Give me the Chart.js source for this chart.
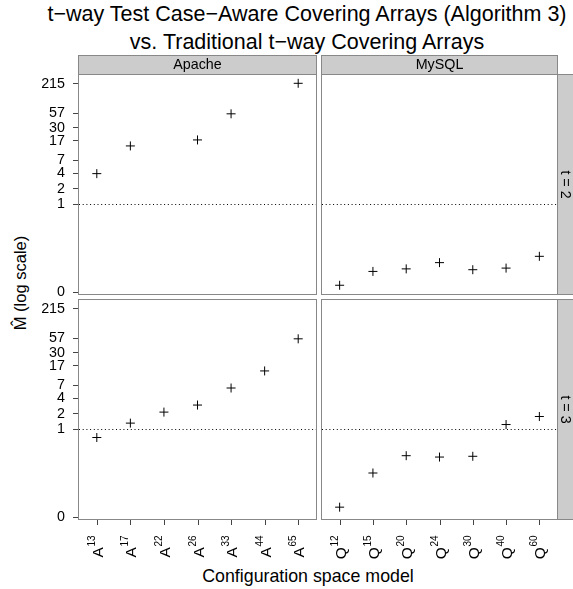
<!DOCTYPE html>
<html>
<head>
<meta charset="utf-8">
<script src="https://cdn.jsdelivr.net/npm/chart.js@4.4.0/dist/chart.umd.min.js"></script>
<style>
  body { margin: 0; width: 573px; height: 589px; overflow: hidden; background: #fff; position: relative;
         font-family: "Liberation Sans", Arial, sans-serif; }
  canvas { position: absolute; left: 0; top: 0; }
  .lbl { position: absolute; white-space: nowrap; color: #000; }
</style>
</head>
<body>
<div class="lbl" style="left:307px;top:0;font-size:21.5px;line-height:28px;text-align:center;transform:translateX(-50%)">t−way Test Case−Aware Covering Arrays (Algorithm 3)<br>vs. Traditional t−way Covering Arrays</div>
<div class="lbl" style="left:308px;top:566px;font-size:17.8px;line-height:20px;transform:translateX(-50%)">Configuration space model</div>
<div class="lbl" style="left:20px;top:283px;font-size:16.5px;line-height:20px;transform:translate(-50%,-50%) rotate(-90deg)">M&#770; (log scale)</div>

<canvas id="pa2" width="573" height="589"></canvas>
<canvas id="pm2" width="573" height="589"></canvas>
<canvas id="pa3" width="573" height="589"></canvas>
<canvas id="pm3" width="573" height="589"></canvas>

<script>
// configuration space models (superscript = size)
let apacheSizes = ['13', '17', '22', '26', '33', '44', '65']
let mysqlSizes = ['12', '15', '20', '24', '30', '40', '60']

// M-hat values (null = no point)
let apacheT2 = [3.9, 13.4, null, 17.5, 56, null, 218]
let mysqlT2 = [0.027, 0.050, 0.056, 0.074, 0.054, 0.058, 0.098]
let apacheT3 = [0.69, 1.31, 2.14, 2.93, 6.26, 13.4, 56]
let mysqlT3 = [0.031, 0.142, 0.307, 0.289, 0.299, 1.23, 1.76]

// y axis ticks
let yTickValues = [0.02, 1, 2, 4, 7, 17, 30, 57, 215]
let yTickLabels = ['0', '1', '2', '4', '7', '17', '30', '57', '215']
let refLevel = 1

let fontName = '"Liberation Sans", Arial, sans-serif'
let edgeColor = '#888888'
let stripFill = '#cccccc'

// draws panel frame, strips, dotted reference line and x ticks
let panelDecor = {
    id: 'panelDecor',
    beforeDatasetsDraw(chart) {
        let ctx = chart.ctx
        let a = chart.chartArea
        let yy = Math.round(chart.scales.y.getPixelForValue(refLevel)) + 0.5
        ctx.save()
        ctx.setLineDash([1, 2.7])
        ctx.strokeStyle = '#000'
        ctx.lineWidth = 1
        ctx.beginPath()
        ctx.moveTo(a.left + 1, yy)
        ctx.lineTo(a.right - 1, yy)
        ctx.stroke()
        ctx.restore()
    },
    afterDraw(chart, args, o) {
        let ctx = chart.ctx
        let a = chart.chartArea
        let w = a.right - a.left
        let h = a.bottom - a.top
        ctx.save()
        ctx.lineWidth = 1
        ctx.strokeStyle = edgeColor
        ctx.fillStyle = stripFill
        if (o.top) {
            ctx.fillRect(a.left, a.top - 19, w, 19)
            ctx.strokeRect(a.left + 0.5, a.top - 18.5, w - 1, 19)
        }
        if (o.right) {
            ctx.fillRect(a.right - 1, a.top, 20, h)
            ctx.strokeRect(a.right - 0.5, a.top + 0.5, 20, h - 1)
        }
        ctx.strokeRect(a.left + 0.5, a.top + 0.5, w - 1, h - 1)

        ctx.fillStyle = '#000'
        ctx.font = '14.3px ' + fontName
        ctx.textAlign = 'center'
        ctx.textBaseline = 'middle'
        if (o.top) {
            ctx.fillText(o.top, (a.left + a.right) / 2, a.top - 9)
        }
        if (o.right) {
            ctx.save()
            ctx.translate(a.right + 7, (a.top + a.bottom) / 2)
            ctx.rotate(Math.PI / 2)
            ctx.fillText(o.right, 0, 0)
            ctx.restore()
        }
        if (o.sizes) {
            let xs = chart.scales.x
            o.sizes.forEach(function (s, i) {
                let px = Math.round(xs.getPixelForValue(i)) + 0.5
                ctx.strokeStyle = '#444'
                ctx.beginPath()
                ctx.moveTo(px, a.bottom)
                ctx.lineTo(px, a.bottom + 5)
                ctx.stroke()
                ctx.save()
                ctx.translate(px + 5.5, a.bottom + 15.5)
                ctx.rotate(-Math.PI / 2)
                ctx.textBaseline = 'alphabetic'
                ctx.textAlign = 'right'
                ctx.font = '10px ' + fontName
                let supW = ctx.measureText(s).width
                ctx.fillText(s, 0, -8.5)
                ctx.font = '15.5px ' + fontName
                ctx.fillText(o.letter, -supW - 0.5, 0)
                ctx.restore()
            })
        }
        ctx.restore()
    }
}

let panels = [
    { id: 'pa2', values: apacheT2, sizes: apacheSizes, letter: 'A', top: 'Apache', right: null, yAxis: true, xAxis: false, box: [78, 74, 317, 295] },
    { id: 'pm2', values: mysqlT2, sizes: mysqlSizes, letter: 'Q', top: 'MySQL', right: 't = 2', yAxis: false, xAxis: false, box: [321, 74, 558, 295] },
    { id: 'pa3', values: apacheT3, sizes: apacheSizes, letter: 'A', top: null, right: null, yAxis: true, xAxis: true, box: [78, 299, 317, 520] },
    { id: 'pm3', values: mysqlT3, sizes: mysqlSizes, letter: 'Q', top: null, right: 't = 3', yAxis: false, xAxis: true, box: [321, 299, 558, 520] }
]

panels.forEach(function (p) {
    let points = []
    p.values.forEach(function (v, i) {
        if (v !== null) points.push({ x: i, y: v })
    })

    let yScale = {
        type: 'logarithmic',
        min: 0.0175,
        max: 330,
        display: p.yAxis,
        afterBuildTicks: function (s) { s.ticks = yTickValues.map(v => ({ value: v })) },
        ticks: {
            autoSkip: false,
            padding: 8,
            color: '#000',
            font: { family: fontName, size: 14.3 },
            callback: (v, i) => yTickLabels[i]
        },
        grid: { drawOnChartArea: false, drawTicks: true, tickLength: 5, color: '#444' },
        border: { display: false }
    }
    if (p.yAxis) yScale.afterFit = function (s) { s.width = p.box[0] }

    new Chart(document.getElementById(p.id), {
        type: 'scatter',
        data: {
            datasets: [{
                data: points,
                pointStyle: 'cross',
                pointRadius: 4.5,
                borderColor: '#000',
                backgroundColor: '#000',
                borderWidth: 1
            }]
        },
        options: {
            responsive: false,
            animation: false,
            devicePixelRatio: 1,
            events: [],
            layout: {
                padding: {
                    left: p.yAxis ? 0 : p.box[0],
                    top: p.box[1],
                    right: 573 - p.box[2],
                    bottom: 589 - p.box[3]
                }
            },
            plugins: {
                legend: { display: false },
                tooltip: { enabled: false },
                panelDecor: {
                    top: p.top,
                    right: p.right,
                    sizes: p.xAxis ? p.sizes : null,
                    letter: p.letter
                }
            },
            scales: {
                x: { type: 'linear', min: -0.56, max: 6.56, display: false },
                y: yScale
            }
        },
        plugins: [panelDecor]
    })
})
</script>
</body>
</html>
